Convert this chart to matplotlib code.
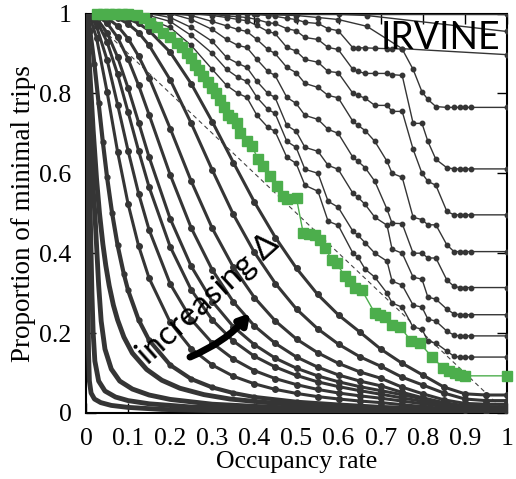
import matplotlib
matplotlib.use("Agg")
import matplotlib.pyplot as plt

# ---- lower family (small delta), steepest first ----
l01_x = [0, 0.001, 0.002, 0.003, 0.004, 0.005, 0.006, 0.008, 0.012, 0.02, 0.035, 0.06, 0.1, 0.18, 0.3, 0.5, 0.75, 1.0]
l01_y = [1, 0.85, 0.7, 0.55, 0.4, 0.25, 0.15, 0.08, 0.05, 0.035, 0.026, 0.019, 0.014, 0.009, 0.006, 0.004, 0.002, 0.001]
l02_x = [0, 0.002, 0.004, 0.007, 0.01, 0.012, 0.014, 0.017, 0.021, 0.03, 0.045, 0.07, 0.1, 0.15, 0.25, 0.4, 0.6, 0.8, 1.0]
l02_y = [1, 0.88, 0.77, 0.62, 0.5, 0.4, 0.3, 0.2, 0.13, 0.08, 0.055, 0.04, 0.031, 0.023, 0.015, 0.01, 0.006, 0.004, 0.002]
l03_x = [0, 0.003, 0.007, 0.012, 0.017, 0.021, 0.025, 0.03, 0.036, 0.045, 0.06, 0.08, 0.11, 0.15, 0.2, 0.3, 0.45, 0.65, 0.85, 1.0]
l03_y = [1, 0.9, 0.78, 0.66, 0.56, 0.5, 0.42, 0.32, 0.23, 0.16, 0.11, 0.08, 0.06, 0.045, 0.034, 0.022, 0.014, 0.008, 0.005, 0.003]
l04_x = [0, 0.005, 0.01, 0.017, 0.025, 0.032, 0.04, 0.047, 0.055, 0.065, 0.075, 0.09, 0.11, 0.144, 0.18, 0.223,
         0.28, 0.342, 0.42, 0.5, 0.6, 0.7, 0.8, 0.9, 1.0]
l04_y = [1, 0.931, 0.836, 0.708, 0.586, 0.5, 0.423, 0.369, 0.319, 0.27, 0.233, 0.19, 0.15, 0.109, 0.082, 0.062,
         0.046, 0.035, 0.027, 0.021, 0.016, 0.012, 0.008, 0.005, 0.003]
l05_x = [0, 0.005, 0.01, 0.02, 0.03, 0.04, 0.05, 0.062, 0.075, 0.09, 0.1, 0.125, 0.15, 0.2, 0.25, 0.3, 0.35,
         0.4, 0.5, 0.6, 0.7, 0.8, 0.9, 1.0]
l05_y = [1, 0.986, 0.957, 0.873, 0.775, 0.678, 0.59, 0.5, 0.42, 0.347, 0.307, 0.233, 0.182, 0.12, 0.085, 0.064, 0.05,
         0.04, 0.028, 0.021, 0.015, 0.011, 0.007, 0.004]

low_x = [0, 0.01, 0.025, 0.05, 0.075, 0.1, 0.125, 0.15, 0.2, 0.25, 0.3, 0.35, 0.4, 0.45, 0.5, 0.55, 0.6, 0.65,
         0.7, 0.75, 0.8, 0.85, 0.9, 0.95, 1.0]
l06_y = [1, 0.989, 0.939, 0.804, 0.654, 0.523, 0.418, 0.337, 0.227, 0.161, 0.12, 0.092, 0.073, 0.059, 0.049, 0.041,
         0.035, 0.03, 0.026, 0.021, 0.016, 0.011, 0.008, 0.006, 0.005]
l07_y = [1, 0.995, 0.968, 0.884, 0.772, 0.656, 0.549, 0.458, 0.323, 0.234, 0.175, 0.135, 0.106, 0.086, 0.071, 0.059,
         0.05, 0.043, 0.037, 0.03, 0.023, 0.016, 0.01, 0.008, 0.007]
l08_y = [1, 0.997, 0.983, 0.929, 0.848, 0.753, 0.656, 0.565, 0.416, 0.308, 0.233, 0.18, 0.142, 0.115, 0.094, 0.078,
         0.066, 0.056, 0.047, 0.038, 0.029, 0.02, 0.013, 0.01, 0.009]
l09_y = [1, 0.999, 0.989, 0.952, 0.891, 0.813, 0.727, 0.64, 0.486, 0.367, 0.279, 0.216, 0.171, 0.137, 0.112, 0.093,
         0.078, 0.066, 0.056, 0.046, 0.035, 0.024, 0.016, 0.013, 0.012]
l10_y = [1, 0.999, 0.995, 0.976, 0.94, 0.886, 0.82, 0.746, 0.596, 0.463, 0.358, 0.278, 0.218, 0.174, 0.14, 0.115,
         0.095, 0.08, 0.068, 0.052, 0.038, 0.026, 0.018, 0.016, 0.016]
l11_y = [1, 1, 0.998, 0.989, 0.969, 0.937, 0.893, 0.839, 0.712, 0.58, 0.462, 0.365, 0.289, 0.23, 0.185, 0.151,
         0.124, 0.103, 0.087, 0.065, 0.048, 0.033, 0.024, 0.022, 0.022]
l12_y = [1, 1, 1, 0.996, 0.989, 0.974, 0.952, 0.92, 0.834, 0.725, 0.608, 0.497, 0.402, 0.324, 0.26, 0.211,
         0.172, 0.141, 0.117, 0.09, 0.07, 0.05, 0.035, 0.031, 0.031]
l13_y = [1, 1, 1, 0.998, 0.995, 0.987, 0.975, 0.957, 0.903, 0.824, 0.729, 0.627, 0.528, 0.439, 0.362, 0.297,
         0.245, 0.203, 0.16, 0.125, 0.095, 0.065, 0.048, 0.045, 0.045]

# ---- upper family (large delta), stepped ----
upper_x = [0, 0.05, 0.1, 0.15, 0.2, 0.25, 0.3, 0.334, 0.361, 0.382, 0.406, 0.432, 0.449, 0.477, 0.499, 0.52,
           0.551, 0.575, 0.599, 0.634, 0.646, 0.663, 0.686, 0.715, 0.727, 0.751, 0.777, 0.798, 0.812, 0.831,
           0.857, 0.874, 0.888, 0.9, 0.914, 1.0]
u01_y = [1, 1, 0.995, 0.985, 0.965, 0.92, 0.86, 0.82, 0.8, 0.79, 0.745, 0.715, 0.705, 0.64, 0.625, 0.57,
         0.555, 0.48, 0.47, 0.4, 0.39, 0.36, 0.34, 0.3, 0.275, 0.265, 0.215, 0.21, 0.18, 0.175,
         0.155, 0.142, 0.14, 0.14, 0.14, 0.14]
u02_y = [1, 1, 1, 0.995, 0.98, 0.945, 0.9, 0.86, 0.84, 0.83, 0.79, 0.76, 0.75, 0.68, 0.665, 0.61,
         0.6, 0.53, 0.515, 0.455, 0.445, 0.426, 0.4, 0.38, 0.33, 0.32, 0.27, 0.265, 0.235, 0.23,
         0.205, 0.195, 0.193, 0.193, 0.193, 0.193]
u03_y = [1, 1, 1, 1, 0.99, 0.965, 0.93, 0.89, 0.875, 0.865, 0.83, 0.8, 0.79, 0.72, 0.705, 0.665,
         0.655, 0.62, 0.61, 0.55, 0.54, 0.522, 0.49, 0.47, 0.41, 0.4, 0.34, 0.335, 0.29, 0.285,
         0.26, 0.248, 0.246, 0.246, 0.246, 0.246]
u04_y = [1, 1, 1, 1, 1, 0.985, 0.96, 0.935, 0.92, 0.915, 0.885, 0.855, 0.845, 0.79, 0.775, 0.745,
         0.735, 0.71, 0.7, 0.64, 0.63, 0.614, 0.58, 0.51, 0.475, 0.474, 0.4, 0.4, 0.388, 0.388,
         0.333, 0.317, 0.314, 0.314, 0.314, 0.314]
u05_y = [1, 1, 1, 1, 1, 0.995, 0.98, 0.969, 0.96, 0.955, 0.935, 0.91, 0.9, 0.865, 0.852, 0.825,
         0.815, 0.795, 0.789, 0.73, 0.72, 0.707, 0.68, 0.63, 0.6, 0.59, 0.49, 0.484, 0.471, 0.471,
         0.421, 0.404, 0.404, 0.404, 0.404, 0.404]
u06_y = [1, 1, 1, 1, 1, 1, 0.995, 0.99, 0.985, 0.982, 0.97, 0.955, 0.95, 0.915, 0.906, 0.885,
         0.878, 0.855, 0.852, 0.8, 0.795, 0.788, 0.77, 0.77, 0.755, 0.755, 0.66, 0.6, 0.58, 0.57,
         0.505, 0.496, 0.496, 0.496, 0.496, 0.496]
u07_y = [1, 1, 1, 1, 1, 1, 0.998, 0.994, 0.992, 0.99, 0.985, 0.977, 0.975, 0.962, 0.957, 0.94,
         0.935, 0.915, 0.91, 0.86, 0.855, 0.85, 0.85, 0.85, 0.847, 0.845, 0.725, 0.725, 0.68, 0.635,
         0.614, 0.611, 0.611, 0.611, 0.611, 0.611]
u08_y = [1, 1, 1, 1, 1, 1, 1, 1, 1, 1, 0.998, 0.995, 0.993, 0.988, 0.985, 0.978,
         0.975, 0.962, 0.957, 0.914, 0.914, 0.914, 0.913, 0.912, 0.912, 0.911, 0.86, 0.804, 0.785, 0.767,
         0.765, 0.765, 0.765, 0.765, 0.765, 0.765]
u09_x = [0, 0.2, 0.3, 0.4, 0.499, 0.551, 0.599, 0.667, 0.751, 1.0]
u09_y = [1, 1, 0.999, 0.998, 0.995, 0.99, 0.985, 0.968, 0.912, 0.897]
u10_x = [0, 0.3, 0.5, 0.6, 0.667, 1.0]
u10_y = [1, 1, 0.999, 0.998, 0.995, 0.955]
u11_x = [0, 0.5, 1.0]
u11_y = [1, 1, 1]

# ---- highlighted (green) series ----
green_x = [0.025, 0.04, 0.055, 0.07, 0.085, 0.1, 0.12, 0.137, 0.152, 0.168, 0.184, 0.2, 0.215, 0.227, 0.239,
           0.249, 0.259, 0.269, 0.279, 0.289, 0.299, 0.309, 0.318, 0.328, 0.338, 0.346, 0.358, 0.366, 0.382,
           0.394, 0.409, 0.421, 0.437, 0.453, 0.467, 0.477, 0.5, 0.516, 0.53, 0.544, 0.556, 0.568, 0.584,
           0.595, 0.615, 0.627, 0.639, 0.655, 0.686, 0.698, 0.71, 0.726, 0.746, 0.773, 0.793, 0.821, 0.849,
           0.862, 0.876, 0.888, 0.9, 1.0]
green_y = [1.0, 1.0, 1.0, 1.0, 0.999, 0.998, 0.997, 0.99, 0.977, 0.965, 0.951, 0.94, 0.927, 0.915, 0.902,
           0.888, 0.872, 0.858, 0.843, 0.828, 0.814, 0.8, 0.784, 0.765, 0.745, 0.739, 0.727, 0.702, 0.681,
           0.668, 0.635, 0.618, 0.593, 0.568, 0.543, 0.535, 0.537, 0.45, 0.448, 0.446, 0.434, 0.413, 0.383,
           0.375, 0.342, 0.33, 0.313, 0.308, 0.25, 0.245, 0.241, 0.221, 0.216, 0.179, 0.175, 0.141, 0.112,
           0.105, 0.099, 0.095, 0.093, 0.093]

x_ticks = [0, 0.1, 0.2, 0.3, 0.4, 0.5, 0.6, 0.7, 0.8, 0.9, 1]
x_tick_labels = ["0", "0.1", "0.2", "0.3", "0.4", "0.5", "0.6", "0.7", "0.8", "0.9", "1"]
y_ticks = [0, 0.2, 0.4, 0.6, 0.8, 1]
y_tick_labels = ["0", "0.2", "0.4", "0.6", "0.8", "1"]

dark = "#353535"
green = "#4cae4c"

fig = plt.figure(figsize=(5.16, 4.79), dpi=100)
ax = fig.add_axes([0.1667, 0.1378, 0.8159, 0.834])

# reference diagonal
ax.plot([0, 1], [1, 0], color="#444444", lw=0.8, ls=(0, (4, 3)), zorder=2)

# thick, densely sampled curves near the origin
for cx, cy in [(l01_x, l01_y), (l02_x, l02_y), (l03_x, l03_y), (l04_x, l04_y)]:
    ax.plot(cx, cy, color=dark, lw=3.5, solid_capstyle="round", zorder=3)
ax.plot(l05_x, l05_y, color=dark, lw=3.0, marker="o", ms=3.5, zorder=3)

for cy in [l06_y, l07_y, l08_y, l09_y, l10_y, l11_y, l12_y, l13_y]:
    ax.plot(low_x, cy, color=dark, lw=2.2, marker="o", ms=4, zorder=3)

for cy in [u01_y, u02_y, u03_y, u04_y, u05_y, u06_y, u07_y, u08_y]:
    ax.plot(upper_x, cy, color=dark, lw=1.0, marker="o", ms=3.2, zorder=3)
for cx, cy in [(u09_x, u09_y), (u10_x, u10_y), (u11_x, u11_y)]:
    ax.plot(cx, cy, color=dark, lw=1.0, marker="o", ms=3.2, zorder=3)

ax.plot(green_x, green_y, color=green, lw=1.0, marker="s", ms=6.5, mec=green, mfc=green,
        zorder=4, clip_on=False)

ax.set_xlim(0, 1)
ax.set_ylim(0, 1)
ax.set_xticks(x_ticks)
ax.set_xticklabels(x_tick_labels)
ax.set_yticks(y_ticks)
ax.set_yticklabels(y_tick_labels)
ax.tick_params(direction="in", top=True, right=True, length=7, width=1.0,
               labelsize=18.5, pad=10.5)
for lab in ax.get_xticklabels() + ax.get_yticklabels():
    lab.set_fontfamily("Liberation Serif")
for sp in ax.spines.values():
    sp.set_linewidth(1.5)
    sp.set_color("black")

ax.set_xlabel("Occupancy rate", fontsize=18.5, family="Liberation Serif", labelpad=1)
ax.set_ylabel("Proportion of minimal trips", fontsize=19.5, family="Liberation Serif", labelpad=2)

ax.text(0.985, 0.985, "IRVINE", transform=ax.transAxes, ha="right", va="top",
        fontsize=27, family="Lato", zorder=6)

ax.text(0.29, 0.285, "increasing \u0394", rotation=42, fontsize=24, family="Lato",
        ha="center", va="center", zorder=6)
ax.annotate("", xy=(0.39, 0.25), xytext=(0.247, 0.14),
            arrowprops=dict(arrowstyle="-|>,head_length=0.6,head_width=0.35", lw=5, color="black",
                            connectionstyle="arc3,rad=0.12", shrinkA=0, shrinkB=0),
            zorder=6)

fig.savefig("out.png", dpi=100)
